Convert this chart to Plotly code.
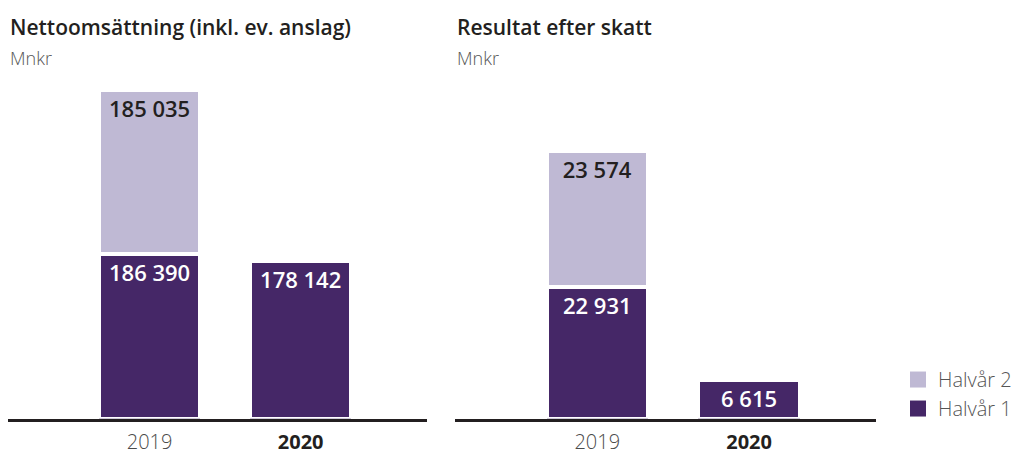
import plotly.graph_objects as go

years = ["2019", "2020"]
net_h1 = [186390, 178142]
net_h2 = [185035, None]
res_h1 = [22931, 6615]
res_h2 = [23574, None]
titles = ["Nettoomsättning (inkl. ev. anslag)", "Resultat efter skatt"]
unit = "Mnkr"
series_names = ["Halvår 1", "Halvår 2"]

C_H1 = "#452767"
C_H2 = "#bfb9d4"
DARK = "#231f20"
FONT = "Open Sans"
W, H = 1017, 455


def fmt(v):
    return "" if v is None else f"{v:,}".replace(",", " ")


fig = go.Figure()

panels = [("x", "y", net_h1, net_h2), ("x2", "y2", res_h1, res_h2)]
for xa, ya, h1, h2 in panels:
    fig.add_trace(go.Bar(
        x=years, y=h1, xaxis=xa, yaxis=ya, width=0.667,
        marker=dict(color=C_H1, line=dict(color="white", width=4)),
        text=[fmt(v) for v in h1], textposition="inside", insidetextanchor="end",
        textangle=0, constraintext="none",
        textfont=dict(family=FONT, size=22, color="white", weight=600),
        showlegend=False, hoverinfo="skip"))
    fig.add_trace(go.Bar(
        x=years, y=h2, xaxis=xa, yaxis=ya, width=0.667,
        marker=dict(color=C_H2, line=dict(color="white", width=4)),
        text=[fmt(v) for v in h2], textposition="inside", insidetextanchor="end",
        textangle=0, constraintext="none",
        textfont=dict(family=FONT, size=22, color=DARK, weight=600),
        showlegend=False, hoverinfo="skip"))

# legend entries
for name, col in [(series_names[1], C_H2), (series_names[0], C_H1)]:
    fig.add_trace(go.Scatter(
        x=[None], y=[None], xaxis="x2", yaxis="y2", mode="markers", name=name,
        marker=dict(symbol="square", size=16, color=col), showlegend=True))

ydom = [(455 - 418.5) / H, (455 - 58.5) / H]
ticktext = ["<span style='color:#4a4a4a'>2019</span>",
            f"<span style='color:{DARK}'><b>2020</b></span>"]
xcommon = dict(type="category", range=[-0.937, 1.836], showline=True, linewidth=3,
               linecolor=DARK, showgrid=False, zeroline=False, ticks="",
               tickvals=years, ticktext=ticktext, ticklabelstandoff=3, automargin=False,
               tickfont=dict(family=FONT, size=20, color="#4a4a4a", weight=300),
               fixedrange=True)
ycommon = dict(showticklabels=False, showgrid=False, zeroline=False, showline=False,
               ticks="", domain=ydom, fixedrange=True, automargin=False)

title_font = dict(family=FONT, size=21, color=DARK, weight=600)
unit_font = dict(family=FONT, size=18, color="#555555", weight=300)

fig.update_layout(
    width=W, height=H, margin=dict(l=0, r=0, t=0, b=0, autoexpand=False),
    paper_bgcolor="white", plot_bgcolor="white", barmode="stack",
    xaxis=dict(domain=[8 / W, 427 / W], anchor="y", **xcommon),
    xaxis2=dict(domain=[455 / W, 876 / W], anchor="y2", **xcommon),
    yaxis=dict(range=[0, 407240], anchor="x", **ycommon),
    yaxis2=dict(range=[0, 62600], anchor="x2", **ycommon),
    legend=dict(x=898 / W, xanchor="left", y=0.134, yanchor="middle",
                traceorder="normal",
                font=dict(family=FONT, size=20, color="#555555", weight=300),
                bgcolor="rgba(0,0,0,0)", itemclick=False, itemdoubleclick=False),
    font=dict(family=FONT),
    annotations=[
        dict(text=titles[0], x=8 / W, y=1 - 27 / H, xref="paper", yref="paper",
             xanchor="left", yanchor="middle", showarrow=False, font=title_font),
        dict(text=unit, x=8 / W, y=1 - 58 / H, xref="paper", yref="paper",
             xanchor="left", yanchor="middle", showarrow=False, font=unit_font),
        dict(text=titles[1], x=455 / W, y=1 - 27 / H, xref="paper", yref="paper",
             xanchor="left", yanchor="middle", showarrow=False, font=title_font),
        dict(text=unit, x=455 / W, y=1 - 58 / H, xref="paper", yref="paper",
             xanchor="left", yanchor="middle", showarrow=False, font=unit_font),
    ],
)

fig.write_html("out.html", config={"displayModeBar": False},
               post_script="document.body.style.margin='0';document.body.style.padding='0';")
